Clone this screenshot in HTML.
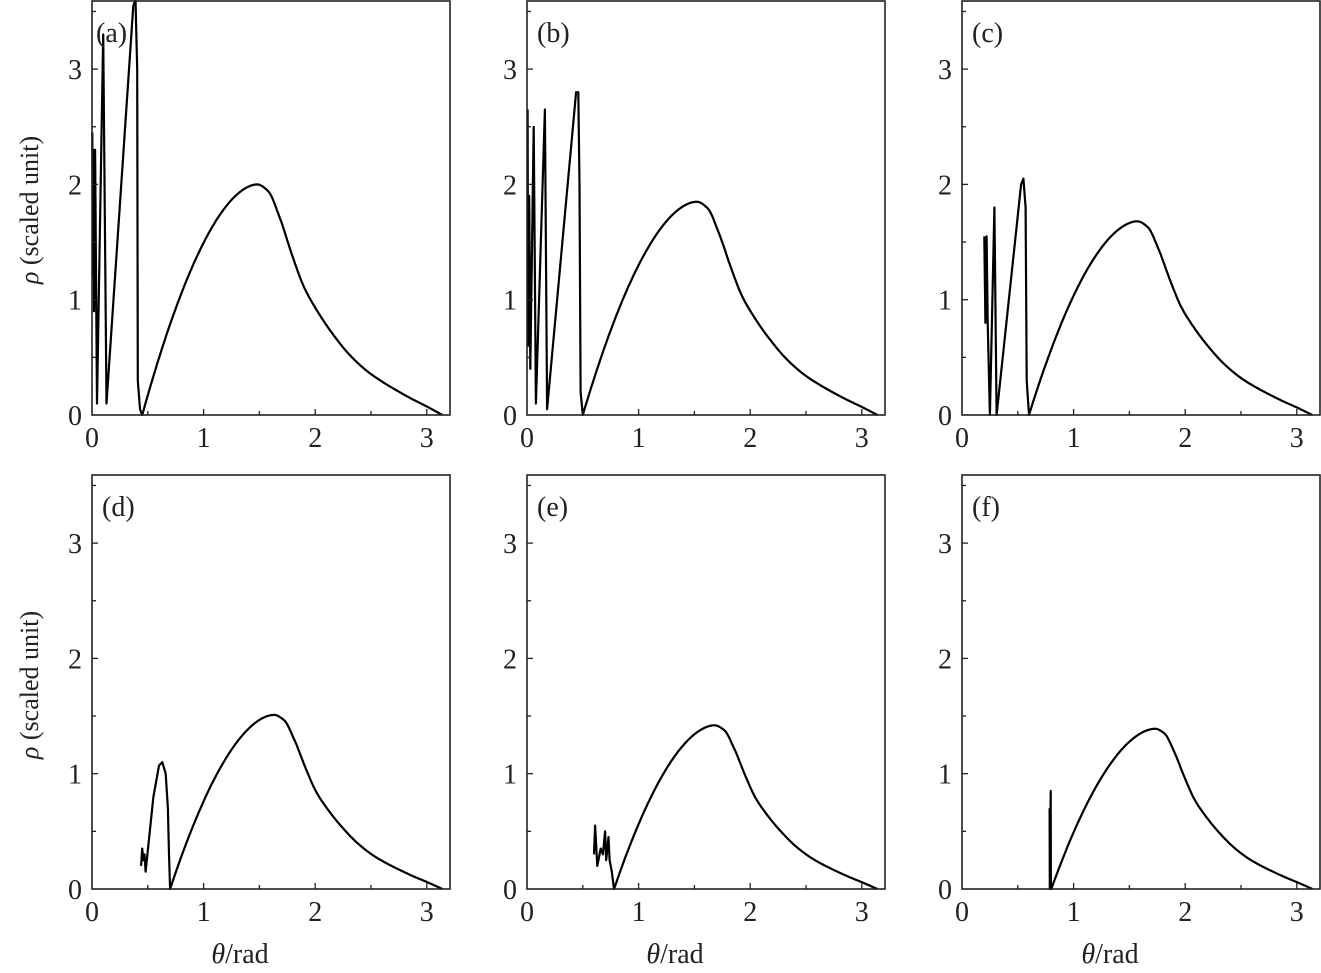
<!DOCTYPE html>
<html><head><meta charset="utf-8"><style>
body{margin:0;background:#fff}
svg{display:block}
text{font-family:"Liberation Serif",serif;fill:#222}
</style></head><body>
<svg id="s" width="1321" height="973" xmlns="http://www.w3.org/2000/svg"></svg>
<script>
const S=document.getElementById('s');let out='';
const KX=111.6,KY=115.3;
const cols=[92,527,962],rows=[415,889];
const P=[
 {s:0.45,p:1.48,h:2.0,pre:[[0.003,2.45],[0.008,1.2],[0.013,2.3],[0.018,0.9],[0.028,2.3],[0.045,0.1],[0.1,3.3],[0.13,0.1],[0.37,3.55],[0.39,3.6],[0.405,3.0],[0.41,0.3],[0.43,0.05],[0.45,0]],l:'(a)'},
 {s:0.5,p:1.52,h:1.85,pre:[[0.005,2.65],[0.01,0.6],[0.02,1.9],[0.03,0.4],[0.06,2.5],[0.08,0.1],[0.16,2.65],[0.18,0.05],[0.44,2.8],[0.46,2.8],[0.47,2.0],[0.48,0.2],[0.5,0]],l:'(b)'},
 {s:0.6,p:1.57,h:1.68,pre:[[0.2,1.55],[0.21,0.8],[0.22,1.55],[0.23,0.8],[0.25,0.0],[0.29,1.8],[0.31,0.0],[0.53,2.0],[0.55,2.05],[0.57,1.8],[0.58,0.3],[0.6,0]],l:'(c)'},
 {s:0.7,p:1.63,h:1.51,pre:[[0.44,0.2],[0.45,0.35],[0.46,0.25],[0.47,0.3],[0.48,0.15],[0.55,0.8],[0.6,1.07],[0.63,1.1],[0.66,1.0],[0.68,0.7],[0.69,0.3],[0.7,0]],l:'(d)'},
 {s:0.78,p:1.68,h:1.42,pre:[[0.6,0.3],[0.61,0.55],[0.63,0.2],[0.66,0.35],[0.68,0.3],[0.7,0.5],[0.71,0.25],[0.73,0.45],[0.74,0.25],[0.76,0.15],[0.78,0]],l:'(e)'},
 {s:0.8,p:1.73,h:1.39,pre:[[0.785,0.7],[0.787,0.0],[0.795,0.85],[0.797,0],[0.8,0]],l:'(f)'}
];
const T=[[0,1],[0.06,0.97],[0.12,0.86],[0.19,0.69],[0.25,0.56],[0.31,0.47],[0.4,0.36],[0.5,0.26],[0.61,0.18],[0.8,0.085],[0.92,0.035],[1,0]];
// monotone cubic
const n=T.length,xs=T.map(a=>a[0]),ys=T.map(a=>a[1]);const d=[],m=[];
for(let i=0;i<n-1;i++)d.push((ys[i+1]-ys[i])/(xs[i+1]-xs[i]));
m[0]=0;m[n-1]=d[n-2];for(let i=1;i<n-1;i++)m[i]=(d[i-1]*d[i]<=0)?0:2/(1/d[i-1]+1/d[i]);
function f(u){for(let i=0;i<n-1;i++){if(u<=xs[i+1]){const h=xs[i+1]-xs[i],t=(u-xs[i])/h,t2=t*t,t3=t2*t;
 return (2*t3-3*t2+1)*ys[i]+(t3-2*t2+t)*h*m[i]+(-2*t3+3*t2)*ys[i+1]+(t3-t2)*h*m[i+1];}}return 0;}
P.forEach((q,i)=>{
 const X0=cols[i%3],Y0=rows[Math.floor(i/3)],top=Y0-415;
 const X=v=>X0+KX*v,Y=v=>Y0-KY*v;
 let pts=q.pre.map(a=>[X(a[0]),Y(a[1])]);
 for(let k=1;k<=80;k++){const t=k/80,x=q.s+(q.p-q.s)*t;pts.push([X(x),Y(q.h*(1-Math.pow(1-t,1.8)))]);}
 for(let k=1;k<=200;k++){const u=k/200,x=q.p+(3.14-q.p)*u;pts.push([X(x),Y(q.h*Math.max(0,f(u)))]);}
 out+='<path d="M'+pts.map(p=>p[0].toFixed(1)+','+p[1].toFixed(1)).join('L')+'" fill="none" stroke="#000" stroke-width="2.2" stroke-linejoin="round"/>';
 out+=`<rect x="${X0}" y="${top+1}" width="${358}" height="${Y0-top-1}" fill="none" stroke="#222" stroke-width="1.6"/>`;
 for(let v=0.5;v<3.2;v+=0.5){const maj=Math.abs(v-Math.round(v))<0.01;out+=`<line x1="${X(v)}" x2="${X(v)}" y1="${Y0}" y2="${Y0-(maj?6:4)}" stroke="#222" stroke-width="1.3"/>`;}
 for(let v=0.5;v<3.6;v+=0.5){const maj=Math.abs(v-Math.round(v))<0.01;out+=`<line x1="${X0}" x2="${X0+(maj?6:4)}" y1="${Y(v)}" y2="${Y(v)}" stroke="#222" stroke-width="1.3"/>`;}
 for(let v=0;v<=3;v++){out+=`<text x="${X(v)}" y="${Y0+32}" font-size="28" text-anchor="middle">${v}</text>`;
  out+=`<text x="${X0-10}" y="${Y(v)+10}" font-size="28" text-anchor="end">${v}</text>`;}
 out+=`<text x="${X0+(i==0?4:10)}" y="${top+42}" font-size="28">${q.l}</text>`;
 if(i>=3) out+=`<text x="${X0+148}" y="963" font-size="28" text-anchor="middle"><tspan font-style="italic">θ</tspan>/rad</text>`;
});
[210,685].forEach(c=>out+=`<text transform="translate(38,${c}) rotate(-90)" font-size="26" text-anchor="middle"><tspan font-style="italic">ρ</tspan> (scaled unit)</text>`);
S.innerHTML=out;
</script>
</body></html>
